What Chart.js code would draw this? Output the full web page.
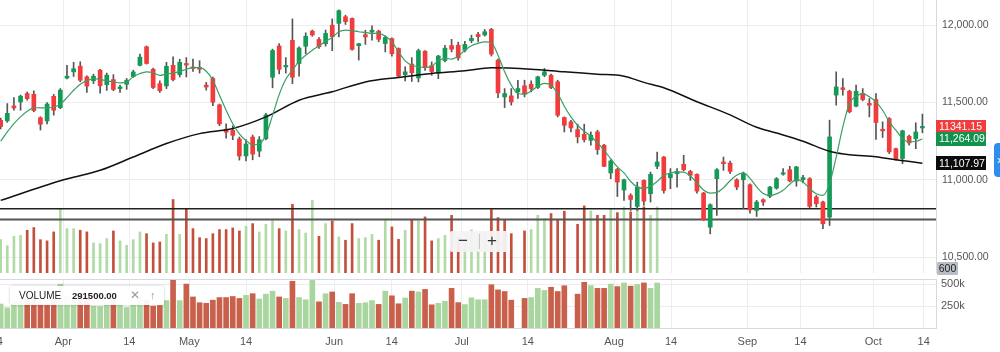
<!DOCTYPE html>
<html><head><meta charset="utf-8">
<script src="https://cdn.jsdelivr.net/npm/chart.js@4.4.0/dist/chart.umd.min.js"></script>
<style>
html,body{margin:0;padding:0;background:#fff;width:1000px;height:352px;overflow:hidden;font-family:"Liberation Sans",Arial,sans-serif;}
#wrap{position:relative;width:1000px;height:352px;}
#c1{position:absolute;left:0;top:0;}
#c2{position:absolute;left:0;top:273px;}
.legend{position:absolute;left:10px;top:286px;width:154px;height:19px;background:rgba(255,255,255,0.93);box-shadow:0 0 3px rgba(0,0,0,0.22);border-radius:3px;font-size:10px;line-height:19px;color:#222;}
.legend span{position:absolute;top:0;}
.zoombox{position:absolute;left:450px;top:231px;width:58px;height:21px;background:rgba(243,243,243,0.95);border-radius:2px;color:#333;font-size:17px;line-height:20px;}
.zoombox span{position:absolute;top:0;}
.badge600{position:absolute;left:937px;top:262px;width:21px;height:13px;background:#b9bdc5;color:#222;font-size:10.5px;line-height:13px;text-align:center;border-radius:1px;}
.bluetab{position:absolute;left:994px;top:143px;width:12px;height:34px;background:#2d8ef0;border-radius:4px;color:#fff;font-size:12px;line-height:34px;padding-left:3px;box-sizing:border-box;}
</style></head>
<body><div id="wrap">
<canvas id="c1" width="1000" height="273"></canvas>
<canvas id="c2" width="1000" height="79"></canvas>
<div class="legend"><span style="left:9px">VOLUME</span><span style="left:62px;font-weight:bold;font-size:9.5px">291500.00</span><span style="left:120px;color:#999;font-size:12px">✕</span><span style="left:140px;color:#999;font-size:11px">↑</span></div>
<div class="zoombox"><span style="left:8px">−</span><span style="left:29px;top:3px;width:1px;height:15px;background:#c8c8c8"></span><span style="left:37px">+</span></div>
<div class="badge600">600</div>
<div class="bluetab">›</div>
</div>
<script>
// ---------- DATA ----------
const opens = [11385,11382,11478,11504,11558,11553,11402,11381,11540,11467,11658,11698,11735,11666,11640,11709,11615,11648,11590,11618,
11668,11740,11860,11715,11622,11607,11740,11680,11752,11730,11726,11612,11655,11485,11328,11320,11265,11155,11277,11186,
11266,11663,11865,11730,11902,11752,11863,11961,11907,11880,11999,12011,12054,12043,11867,11938,11955,11961,11881,11913,
11849,11680,11748,11659,11831,11738,11690,11771,11868,11870,11838,11899,11940,11936,11972,11774,11536,11543,11569,11608,
11618,11597,11676,11676,11634,11403,11375,11325,11295,11256,11310,11224,11045,11068,10935,10900,10829,10997,10911,11088,
11148,11014,11040,11101,11055,11036,10915,10695,11008,11116,11109,11001,11001,10969,10803,10872,10894,10947,11037,11066,
10993,11002,11008,10890,10857,10760,11548,11595,11573,11476,11558,11494,11519,11327,11396,11202,11138,11282,11267,11336];
const highs = [11400,11493,11532,11548,11568,11575,11408,11500,11552,11590,11740,11760,11763,11672,11683,11715,11690,11680,11612,11655,
11709,11812,11865,11722,11640,11760,11795,11780,11790,11780,11770,11630,11665,11490,11363,11350,11277,11260,11290,11280,
11430,11845,11880,11790,12040,11860,11950,11968,11920,11968,12040,12099,12064,12047,11882,11967,11995,11967,11930,11918,
11853,11730,11790,11845,11835,11762,11805,11870,11908,11890,11895,11935,11953,11972,11979,11780,11590,11590,11644,11644,
11640,11670,11720,11683,11644,11407,11385,11360,11360,11310,11321,11230,11130,11075,11005,10911,10986,11001,11051,11180,
11152,11073,11073,11159,11062,11040,10920,10846,11073,11148,11122,11008,11051,10975,10868,10878,10958,11015,11073,11088,
11088,11030,11015,10900,10864,11386,11698,11655,11580,11612,11590,11526,11558,11375,11403,11205,11321,11289,11369,11425];
const lows = [11330,11372,11450,11450,11515,11440,11322,11362,11418,11460,11652,11668,11634,11565,11622,11560,11578,11576,11565,11585,
11662,11737,11748,11590,11565,11590,11640,11665,11665,11700,11690,11580,11480,11350,11270,11260,11128,11122,11130,11150,
11258,11595,11685,11690,11622,11670,11815,11928,11850,11864,11835,11924,12004,11838,11774,11875,11903,11892,11827,11800,
11665,11640,11636,11633,11708,11676,11654,11762,11827,11773,11827,11886,11892,11929,11800,11532,11467,11483,11526,11536,
11569,11590,11666,11590,11407,11310,11310,11239,11245,11224,11165,11085,11008,10893,10867,10803,10803,10835,10857,11073,
10915,10943,10954,11058,10997,10915,10738,10652,10771,11062,11040,10937,10814,10786,10764,10835,10885,10940,11030,10987,
10959,10980,10821,10825,10685,10706,11483,11547,11433,11472,11511,11407,11261,11274,11170,11127,11105,11224,11202,11304];
const closes = [11345,11430,11465,11541,11525,11448,11360,11490,11450,11580,11670,11718,11644,11606,11670,11608,11677,11584,11601,11644,
11697,11793,11752,11597,11576,11734,11648,11760,11742,11720,11715,11600,11502,11362,11308,11288,11154,11232,11167,11260,
11420,11836,11714,11739,11663,11852,11928,11936,11860,11946,11925,12093,12022,11843,11880,11923,11967,11908,11920,11815,
11671,11698,11692,11835,11725,11700,11800,11851,11844,11788,11875,11914,11925,11957,11813,11562,11558,11504,11590,11554,
11590,11666,11698,11597,11418,11353,11336,11278,11260,11288,11196,11088,11123,10986,11001,10874,10954,10863,11036,11116,
10932,11040,11055,11066,11030,10928,10743,10840,11066,11105,11055,10954,11040,10807,10857,10857,10954,11008,11045,10993,
11084,11015,10829,10846,10717,11278,11601,11584,11440,11573,11519,11483,11371,11317,11181,11131,11317,11239,11310,11341.15];
// fast moving average (green)
const maFast = [11250,11310,11364,11407,11443,11467,11465,11465,11471,11489,11532,11579,11618,11640,11655,11648,11640,11633,11627,11633,
11666,11687,11698,11692,11675,11685,11690,11700,11715,11725,11725,11702,11644,11547,11450,11363,11298,11255,11227,11234,
11288,11417,11551,11650,11708,11767,11805,11838,11865,11895,11920,11957,11968,11964,11957,11953,11946,11946,11929,11892,
11828,11769,11741,11731,11726,11735,11769,11785,11780,11800,11838,11867,11882,11892,11886,11806,11698,11612,11558,11554,
11575,11605,11623,11612,11558,11476,11407,11353,11314,11282,11239,11191,11137,11084,11045,10990,10955,10945,10960,10990,
11030,11045,11052,11050,11025,10980,10935,10915,10920,10950,10995,11030,11045,11010,10955,10912,10900,10910,10933,10972,
11002,10987,10944,10911,10900,10976,11148,11343,11494,11541,11558,11537,11504,11450,11375,11321,11267,11246,11250,11264.09];
const maSlowBars = [0,9,15,20,25,30,35,40,45,50,55,60,65,70,74,80,85,90,94,97,100,105,110,114,117,121,125,128,132,135,139];
const maSlowVals = [10868,10995,11062,11148,11235,11299,11332,11407,11515,11569,11633,11662,11688,11705,11724,11715,11698,11683,11670,11630,11595,11505,11420,11340,11303,11250,11185,11162,11150,11130,11107.97];
// volume (thousands) and direction (1 up / 0 down); null = no bar
const volumeK = [274,230,299,306,343,363,274,265,331,502,355,355,343,331,250,245,282,338,265,233,
274,331,318,250,257,313,569,313,502,355,289,282,318,348,348,360,338,373,392,331,
387,421,355,338,534,348,323,564,299,392,412,294,270,392,282,289,313,270,421,368,
277,343,421,412,441,265,282,306,453,290,268,345,323,323,495,436,417,318,null,338,
348,453,429,466,417,483,null,387,522,485,453,453,502,473,515,478,498,515,453,515];
const volumeUp = [1,1,1,1,0,0,0,0,0,1,1,1,0,0,1,1,1,0,1,1,
1,1,0,0,0,1,0,1,0,0,0,0,0,0,0,0,0,1,0,1,
1,1,0,1,0,1,1,1,0,1,0,1,0,0,1,1,1,0,1,0,
0,1,0,1,0,0,1,1,0,0,1,1,1,1,0,0,0,0,0,0,
1,1,1,0,0,0,0,0,0,1,0,0,1,0,1,0,1,0,1,1];
// horizontal price levels
const levels = [10814, 10745];
// axis ticks
const tickPos = [-0.6,9.44,19.4,28.45,37.0,50.3,58.97,69.53,79.5,92.5,101.1,112.6,120.6,131.6,139.2];
const tickLabels = ['14','Apr','14','May','14','Jun','14','Jul','14','Aug','14','Sep','14','Oct','14'];
const priceTicks = [10500,11000,11500,12000];
const volTicks = [250000,500000];

// ---------- STYLE ----------
const RED = '#f23b3b', GREEN = '#129a56', WICK = '#555';
const VRED = '#c9604c', VGREEN = '#a9d69e';
const ORED = '#c2503d', OGREEN = '#b0dba6';
const GRID = '#ededed', BORDER = '#d6dadf';
const X_MIN = -0.1, X_MAX = 141.05;
const FONT = '"Liberation Sans", Arial, sans-serif';
Chart.defaults.font.family = FONT;

const idx = closes.map((_, i) => i);
const fmt = v => v.toLocaleString('en-US', {minimumFractionDigits: 2, maximumFractionDigits: 2});
const noPad = s => { s.paddingLeft = 0; s.paddingRight = 0; s.paddingTop = 0; s.paddingBottom = 0; };

const badgePlugin = {
  id: 'badges',
  afterDraw(chart) {
    const ctx = chart.ctx, ys = chart.scales.y, ca = chart.chartArea;
    const items = [
      {v: closes[closes.length-1], t: closes[closes.length-1].toFixed(2), bg: '#f03c3c'},
      {v: maFast[maFast.length-1], t: fmt(maFast[maFast.length-1]), bg: '#13924f'},
      {v: maSlowVals[maSlowVals.length-1], t: fmt(maSlowVals[maSlowVals.length-1]), bg: '#0b0b0b'}
    ];
    ctx.save();
    ctx.font = '10.5px ' + FONT;
    ctx.textBaseline = 'middle';
    items.forEach(b => {
      const y = ys.getPixelForValue(b.v);
      ctx.fillStyle = b.bg;
      ctx.fillRect(ca.right, Math.round(y - 7), 50, 14);
      ctx.fillStyle = '#fff';
      ctx.fillText(b.t, ca.right + 3, y + 0.5);
    });
    ctx.restore();
  }
};

const fixedTicks = (arr) => (s) => { s.ticks = arr.map(v => ({value: v})); };

// ---------- PRICE CHART ----------
new Chart(document.getElementById('c1'), {
  data: {
    datasets: [
      {type: 'line', order: 1, data: idx.map(i => ({x: i, y: maFast[i]})), borderColor: '#3a9e66', borderWidth: 1.2, pointRadius: 0, tension: 0.4, cubicInterpolationMode: 'monotone'},
      {type: 'line', order: 2, data: maSlowBars.map((b, k) => ({x: b, y: maSlowVals[k]})), borderColor: '#111', borderWidth: 1.5, pointRadius: 0, cubicInterpolationMode: 'monotone'},
      {type: 'bar', order: 3, grouped: false, data: idx.map(i => ({x: i, y: [opens[i], closes[i]]})), backgroundColor: idx.map(i => closes[i] >= opens[i] ? GREEN : RED), barThickness: 4, minBarLength: 1.5, borderWidth: 0},
      {type: 'bar', order: 4, grouped: false, data: idx.map(i => ({x: i, y: [lows[i], highs[i]]})), backgroundColor: WICK, barThickness: 1, borderWidth: 0},
      ...levels.map((lv, k) => ({type: 'line', order: 5, data: [{x: X_MIN, y: lv}, {x: X_MAX, y: lv}], borderColor: k === 0 ? '#222' : '#555', borderWidth: k === 0 ? 1.3 : 2, pointRadius: 0})),
      {type: 'bar', order: 6, grouped: false, yAxisID: 'yv', data: volumeK.map((v, i) => ({x: i, y: v === null ? null : v * 1000})), backgroundColor: volumeK.map((v, i) => volumeUp[i] ? OGREEN : ORED), barThickness: 2, borderWidth: 0}
    ]
  },
  options: {
    responsive: false, animation: false, events: [],
    layout: {padding: 0, autoPadding: false},
    plugins: {legend: {display: false}, tooltip: {enabled: false}},
    scales: {
      x: {type: 'linear', offset: false, min: X_MIN, max: X_MAX, afterBuildTicks: fixedTicks(tickPos),
          ticks: {display: false}, grid: {color: GRID, drawTicks: false, offset: false}, border: {display: true, color: BORDER},
          afterFit: s => { s.height = 0; noPad(s); }},
      y: {position: 'right', min: 10399, max: 12162, afterBuildTicks: fixedTicks(priceTicks),
          ticks: {padding: 6, color: '#555', font: {size: 10.5}, callback: v => fmt(v)},
          grid: {color: GRID, drawTicks: false}, border: {display: true, color: BORDER},
          afterFit: s => { s.width = 64; noPad(s); }},
      yv: {display: false, min: 29000, max: 2035000}
    }
  },
  plugins: [badgePlugin]
});

// ---------- VOLUME CHART ----------
const boxPlugin = {
  id: 'box',
  afterDraw(chart) {
    const ctx = chart.ctx, ca = chart.chartArea;
    ctx.save(); ctx.strokeStyle = BORDER; ctx.lineWidth = 1;
    ctx.beginPath(); ctx.moveTo(0, ca.top + 0.5); ctx.lineTo(ca.right, ca.top + 0.5); ctx.stroke();
    ctx.restore();
  }
};
new Chart(document.getElementById('c2'), {
  data: {
    datasets: [
      {type: 'bar', grouped: false, data: volumeK.map((v, i) => ({x: i, y: v === null ? null : v * 1000})), backgroundColor: volumeK.map((v, i) => volumeUp[i] ? VGREEN : VRED), barThickness: 5, borderWidth: 0}
    ]
  },
  options: {
    responsive: false, animation: false, events: [],
    layout: {padding: {top: 6, left: 0, right: 0, bottom: 0}, autoPadding: false},
    plugins: {legend: {display: false}, tooltip: {enabled: false}},
    scales: {
      x: {type: 'linear', offset: false, min: X_MIN, max: X_MAX, afterBuildTicks: fixedTicks(tickPos),
          ticks: {padding: 7, color: '#555', font: {size: 11}, maxRotation: 0, autoSkip: false, callback: (v, i) => tickLabels[i]},
          grid: {color: GRID, drawTicks: false, offset: false}, border: {display: true, color: BORDER},
          afterFit: s => { s.height = 24; noPad(s); }},
      y: {position: 'right', min: 0, max: 560000, afterBuildTicks: fixedTicks(volTicks),
          ticks: {padding: 5, color: '#555', font: {size: 11}, callback: v => (v / 1000) + 'k'},
          grid: {color: GRID, drawTicks: false}, border: {display: true, color: BORDER},
          afterFit: s => { s.width = 64; noPad(s); }}
    }
  },
  plugins: [boxPlugin]
});
</script>
</body></html>
